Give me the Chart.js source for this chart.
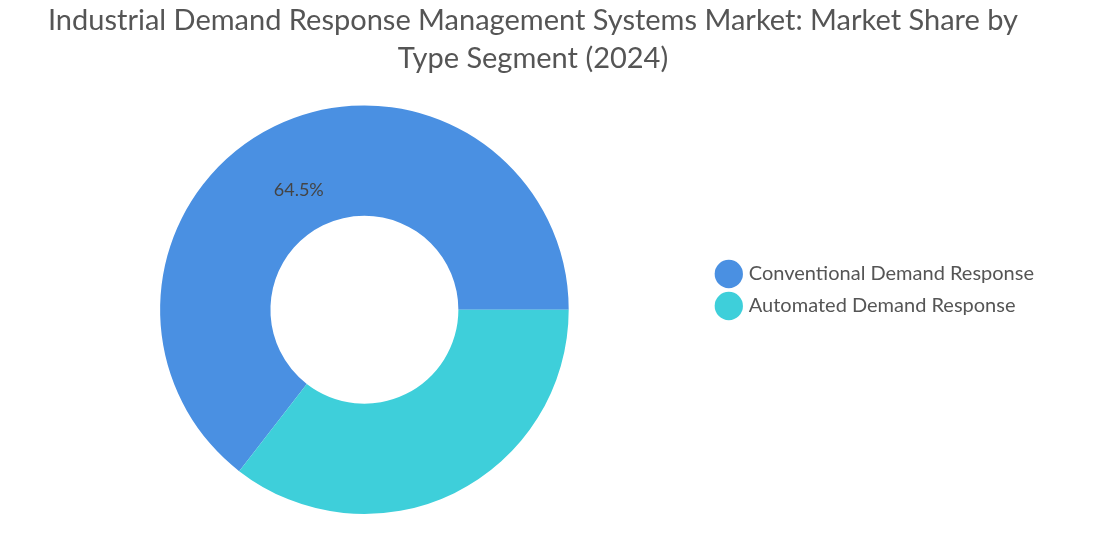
<!DOCTYPE html>
<html>
<head>
<meta charset="utf-8">
<script src="https://cdn.jsdelivr.net/npm/chart.js@4"></script>
<style>
  html, body { margin: 0; padding: 0; background: #fff; }
  #wrap { width: 1114px; height: 550px; }
</style>
</head>
<body>
<div id="wrap"><canvas id="c"></canvas></div>
<script>
// --- Daten ---
const segments = ['Conventional Demand Response', 'Automated Demand Response'];
const shares = [64.5, 35.5];
const colors = ['#4a90e2', '#3ecfda'];
const labelledSegments = ['Conventional Demand Response']; // nur dieser bekommt eine Zahl

// Prozentwert in die Mitte des Rings schreiben
const sliceLabels = {
  id: 'sliceLabels',
  afterDatasetsDraw(chart) {
    const ctx = chart.ctx;
    const meta = chart.getDatasetMeta(0);
    meta.data.forEach((arc, i) => {
      if (!labelledSegments.includes(segments[i])) return;
      const p = arc.tooltipPosition();
      ctx.save();
      ctx.font = '18px Lato, "Noto Sans", sans-serif';
      ctx.fillStyle = '#444';
      ctx.textAlign = 'center';
      ctx.textBaseline = 'middle';
      ctx.fillText(shares[i] + '%', p.x, p.y + 14);
      ctx.restore();
    });
  }
};

// Legende etwas nach unten schieben (wie im Original)
const legendShift = {
  id: 'legendShift',
  afterLayout(chart) {
    const lg = chart.legend;
    if (!lg) return;
    const dy = 33;
    lg.top += dy;
    lg.bottom += dy;
    (lg.legendHitBoxes || []).forEach(b => { b.top += dy; });
  }
};

new Chart(document.getElementById('c'), {
  type: 'doughnut',
  data: {
    labels: segments,
    datasets: [{ data: shares, backgroundColor: colors, borderWidth: 0 }]
  },
  options: {
    responsive: true,
    maintainAspectRatio: false,
    animation: false,
    rotation: 217.8,
    cutout: '46%',
    layout: { padding: { left: 22, right: 70, top: 0, bottom: 36 } },
    plugins: {
      title: {
        display: true,
        text: ['Industrial Demand Response Management Systems Market: Market Share by', 'Type Segment (2024)'],
        color: '#555',
        font: { family: 'Lato, "Noto Sans", sans-serif', size: 29, weight: 'normal', lineHeight: 1.3 },
        padding: { top: 2, bottom: 28 }
      },
      legend: {
        position: 'right',
        labels: {
          usePointStyle: true,
          pointStyle: 'circle',
          boxWidth: 20,
          boxHeight: 20,
          padding: 12,
          color: '#555',
          font: { family: 'Lato, "Noto Sans", sans-serif', size: 20 }
        }
      },
      tooltip: { enabled: false }
    }
  },
  plugins: [sliceLabels, legendShift]
});
</script>
</body>
</html>
